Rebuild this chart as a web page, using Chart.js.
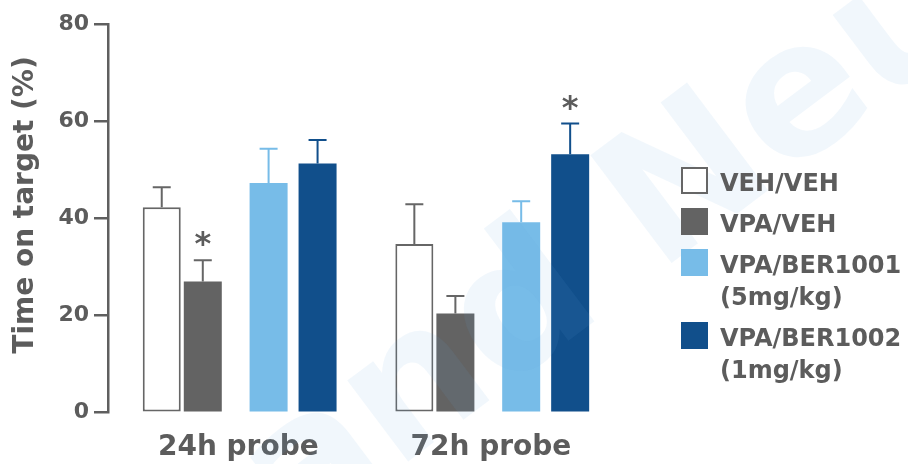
<!DOCTYPE html>
<html><head><meta charset="utf-8">
<script src="https://cdn.jsdelivr.net/npm/chart.js@4/dist/chart.umd.min.js"></script>
<style>html,body{margin:0;padding:0;background:#fff}#wrap{width:908px;height:464px;position:relative}</style>
</head><body><div id="wrap"><canvas id="c" width="908" height="464"></canvas></div>
<script>
const categories = ['24h probe', '72h probe'];
const seriesLabels = [['VEH/VEH'], ['VPA/VEH'], ['VPA/BER1001', '(5mg/kg)'], ['VPA/BER1002', '(1mg/kg)']];
const vehVeh = [42.3, 34.7];
const vehVehErr = [4.1, 8.2];
const vpaVeh = [27.0, 20.4];
const vpaVehErr = [4.4, 3.6];
const vpaBer1001 = [47.3, 39.2];
const vpaBer1001Err = [7.0, 4.3];
const vpaBer1002 = [51.3, 53.2];
const vpaBer1002Err = [4.8, 6.3];
const vpaVehSig = [true, false];
const vpaBer1002Sig = [false, true];
const yTicks = [0, 20, 40, 60, 80];
const yTitle = 'Time on target (%)';
const watermark = 'and Neu';

const FONT = '"DejaVu Sans", Verdana, sans-serif';
const TEXT = '#5c5c5c';

const errPlugin = {
  id: 'errs',
  afterDatasetsDraw(chart) {
    const ctx = chart.ctx, y = chart.scales.y;
    chart.data.datasets.forEach((ds, di) => {
      const meta = chart.getDatasetMeta(di);
      meta.data.forEach((bar, i) => {
        const top = y.getPixelForValue(ds.data[i] + ds.errors[i]);
        ctx.save();
        ctx.strokeStyle = ds.errColor; ctx.lineWidth = 2;
        ctx.beginPath();
        ctx.moveTo(bar.x, bar.y); ctx.lineTo(bar.x, top);
        ctx.moveTo(bar.x - 9, top); ctx.lineTo(bar.x + 9, top);
        ctx.stroke();
        if (ds.sig && ds.sig[i]) {
          ctx.fillStyle = TEXT; ctx.font = 'bold 32px ' + FONT;
          ctx.textAlign = 'center'; ctx.textBaseline = 'alphabetic';
          ctx.fillText('*', bar.x, top - 6);
        }
        ctx.restore();
      });
    });
  },
  afterDraw(chart) {
    const ctx = chart.ctx;
    // y title
    ctx.save();
    ctx.translate(33, 205); ctx.rotate(-Math.PI / 2);
    ctx.fillStyle = TEXT; ctx.font = 'bold 28px ' + FONT;
    ctx.textAlign = 'center'; ctx.textBaseline = 'alphabetic';
    ctx.fillText(yTitle, 0, 0);
    ctx.restore();
    // watermark
    ctx.save();
    ctx.translate(296, 546); ctx.rotate(-37 * Math.PI / 180);
    ctx.fillStyle = 'rgba(100,170,225,0.09)'; ctx.font = 'bold 185px ' + FONT;
    ctx.textAlign = 'left'; ctx.textBaseline = 'alphabetic';
    ctx.fillText(watermark, 0, 0);
    ctx.restore();
    // legend
    ctx.save();
    let top = 167;
    chart.data.datasets.forEach((ds, di) => {
      const lines = seriesLabels[di];
      if (ds.borderWidth) {
        ctx.fillStyle = ds.backgroundColor; ctx.fillRect(682, top + 1, 25, 25);
        ctx.strokeStyle = ds.borderColor; ctx.lineWidth = 2; ctx.strokeRect(682, top + 1, 25, 25);
      } else {
        ctx.fillStyle = ds.backgroundColor; ctx.fillRect(681, top, 27, 27);
      }
      ctx.fillStyle = TEXT; ctx.font = 'bold 24px ' + FONT;
      ctx.textAlign = 'left'; ctx.textBaseline = 'alphabetic';
      lines.forEach((t, k) => ctx.fillText(t, 720, top + 24 + k * 32));
      top += lines.length * 32 + 9;
    });
    ctx.restore();
  }
};

const common = { barPercentage: 1, maxBarThickness: 38 };

new Chart(document.getElementById('c'), {
  type: 'bar',
  data: {
    labels: categories,
    datasets: [
      Object.assign({ label: seriesLabels[0].join(' '), data: vehVeh, errors: vehVehErr, sig: null,
        backgroundColor: '#ffffff', borderColor: '#666666', borderWidth: 2, borderSkipped: false,
        categoryPercentage: 0.766, errColor: '#666666' }, common),
      Object.assign({ label: seriesLabels[1].join(' '), data: vpaVeh, errors: vpaVehErr, sig: vpaVehSig,
        backgroundColor: '#636363', borderWidth: 0,
        categoryPercentage: 0.998, errColor: '#666666' }, common),
      Object.assign({ label: seriesLabels[2].join(' '), data: vpaBer1001, errors: vpaBer1001Err, sig: null,
        backgroundColor: '#77bce8', borderWidth: 0,
        categoryPercentage: 1.086, errColor: '#77bce8' }, common),
      Object.assign({ label: seriesLabels[3].join(' '), data: vpaBer1002, errors: vpaBer1002Err, sig: vpaBer1002Sig,
        backgroundColor: '#114f8b', borderWidth: 0,
        categoryPercentage: 0.879, errColor: '#114f8b' }, common)
    ]
  },
  options: {
    responsive: false, animation: false, devicePixelRatio: 1,
    layout: { padding: { top: 24, right: 294.8, left: 0, bottom: 0 } },
    plugins: { legend: { display: false }, tooltip: { enabled: false } },
    scales: {
      x: {
        grid: { display: false }, border: { display: false },
        ticks: { color: TEXT, font: { family: FONT, size: 28, weight: 'bold' }, padding: 10, labelOffset: 4 },
        afterFit: s => { s.height = 51.3; }
      },
      y: {
        min: 0, max: 80,
        afterBuildTicks: s => { s.ticks = yTicks.map(v => ({ value: v })); },
        grid: { drawOnChartArea: false, drawTicks: true, tickLength: 14, color: '#5f5f5f', lineWidth: 2.5 },
        border: { display: true, color: '#5f5f5f', width: 2.5 },
        ticks: { color: TEXT, font: { family: FONT, size: 22, weight: 'bold' }, padding: 5 },
        afterFit: s => { s.width = 108; }
      }
    }
  },
  plugins: [errPlugin]
});
</script></body></html>
